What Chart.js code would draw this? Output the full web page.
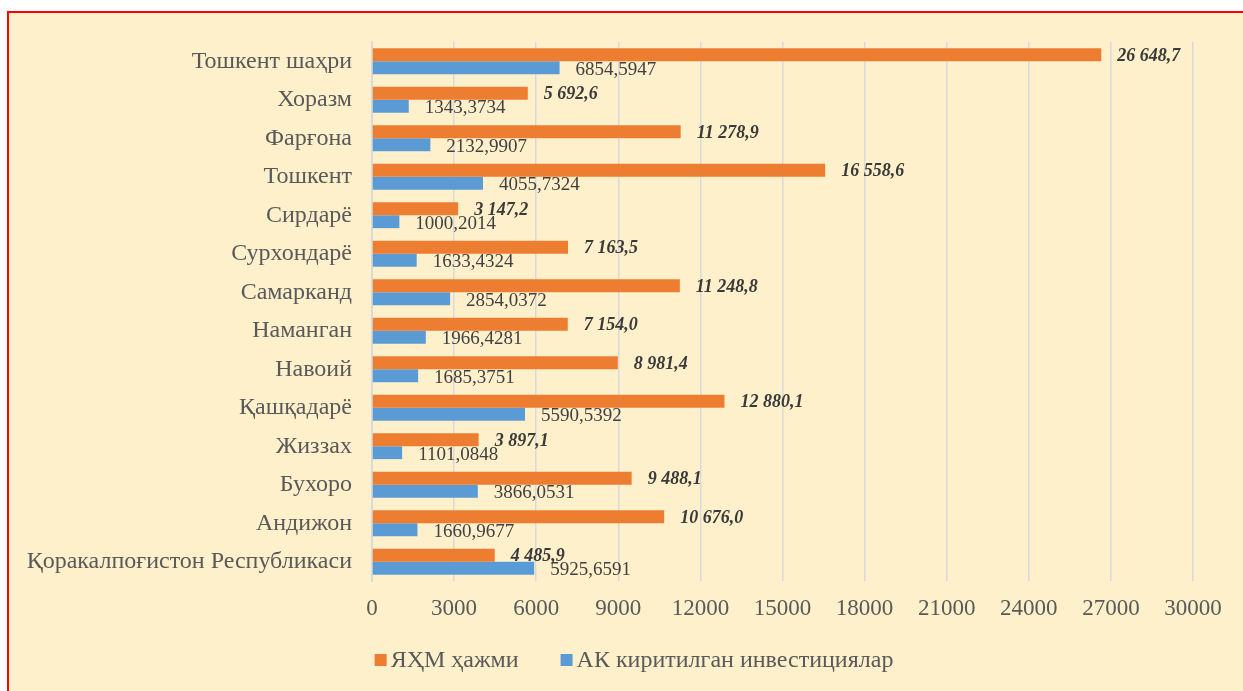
<!DOCTYPE html>
<html>
<head>
<meta charset="utf-8">
<script src="https://cdn.jsdelivr.net/npm/chart.js@4/dist/chart.umd.min.js"></script>
<style>
    body { margin: 0; background: #ffffff; overflow: hidden; }
    #frame {
        position: absolute; left: 7px; top: 11px;
        width: 1250px; height: 700px;
        background: #FFF0CC; border: 2px solid #FF0000;
    }
    #wrap { position: absolute; left: 0; top: 0; width: 1243px; height: 691px; }
</style>
</head>
<body>
<div id="frame"></div>
<div id="wrap"><canvas id="chart"></canvas></div>
<script>
// Regions, top to bottom
const regions = [
    'Тошкент шаҳри', 'Хоразм', 'Фарғона', 'Тошкент', 'Сирдарё', 'Сурхондарё',
    'Самарканд', 'Наманган', 'Навоий', 'Қашқадарё', 'Жиззах', 'Бухоро',
    'Андижон', 'Қоракалпоғистон Республикаси'
];

// ЯҲМ ҳажми
const grpValues = [
    26648.7, 5692.6, 11278.9, 16558.6, 3147.2, 7163.5,
    11248.8, 7154.0, 8981.4, 12880.1, 3897.1, 9488.1,
    10676.0, 4485.9
];

// АК киритилган инвестициялар
const investValues = [
    6854.5947, 1343.3734, 2132.9907, 4055.7324, 1000.2014, 1633.4324,
    2854.0372, 1966.4281, 1685.3751, 5590.5392, 1101.0848, 3866.0531,
    1660.9677, 5925.6591
];

const xTicks = [0, 3000, 6000, 9000, 12000, 15000, 18000, 21000, 24000, 27000, 30000];

const FONT = '"Liberation Serif", "Times New Roman", serif';
const TEXT_GREY = '#595959';

function fmtGrp(v) {
    const parts = v.toFixed(1).split('.');
    const intPart = parts[0].replace(/\B(?=(\d{3})+(?!\d))/g, ' ');
    return intPart + ',' + parts[1];
}

function fmtInvest(v) {
    return v.toFixed(4).replace('.', ',');
}

// Value labels next to each bar end
const barLabels = {
    id: 'barLabels',
    afterDatasetsDraw(chart) {
        const ctx = chart.ctx;
        ctx.save();
        ctx.textAlign = 'left';
        ctx.textBaseline = 'middle';
        chart.data.datasets.forEach((ds, i) => {
            const meta = chart.getDatasetMeta(i);
            meta.data.forEach((bar, j) => {
                if (i === 0) {
                    ctx.font = 'italic bold 18px ' + FONT;
                    ctx.fillStyle = '#3a3a3a';
                    ctx.fillText(fmtGrp(ds.data[j]), bar.x + 16, bar.y + 1.5);
                } else {
                    ctx.font = '19px ' + FONT;
                    ctx.fillStyle = '#404040';
                    ctx.fillText(fmtInvest(ds.data[j]), bar.x + 16, bar.y + 2);
                }
            });
        });
        ctx.restore();
    }
};

// Legend under the axis, centred like the original
const bottomLegend = {
    id: 'bottomLegend',
    afterDraw(chart) {
        const ctx = chart.ctx;
        const centerX = 634;
        const y = 660;
        const box = 12, gap = 4, spacing = 42;
        ctx.save();
        ctx.font = '24px ' + FONT;
        ctx.textBaseline = 'middle';
        ctx.textAlign = 'left';
        const items = chart.data.datasets.map(ds => ({
            text: ds.label,
            color: ds.backgroundColor,
            w: box + gap + ctx.measureText(ds.label).width
        }));
        const total = items.reduce((s, it) => s + it.w, 0) + spacing * (items.length - 1);
        let x = centerX - total / 2;
        items.forEach(it => {
            ctx.fillStyle = it.color;
            ctx.fillRect(x, y - box / 2, box, box);
            ctx.fillStyle = TEXT_GREY;
            ctx.fillText(it.text, x + box + gap, y + 1);
            x += it.w + spacing;
        });
        ctx.restore();
    }
};

new Chart(document.getElementById('chart'), {
    type: 'bar',
    data: {
        labels: regions,
        datasets: [
            {
                label: 'ЯҲМ ҳажми',
                data: grpValues,
                backgroundColor: '#ED7D31',
                borderWidth: 0,
                categoryPercentage: 0.67,
                barPercentage: 1.0
            },
            {
                label: 'АК киритилган инвестициялар',
                data: investValues,
                backgroundColor: '#5B9BD5',
                borderWidth: 0,
                categoryPercentage: 0.67,
                barPercentage: 1.0
            }
        ]
    },
    options: {
        indexAxis: 'y',
        responsive: true,
        maintainAspectRatio: false,
        animation: false,
        layout: {
            padding: { left: 0, right: 50, top: 42, bottom: 53 }
        },
        plugins: {
            legend: { display: false },
            tooltip: { enabled: false }
        },
        scales: {
            x: {
                min: 0,
                max: 30000,
                afterBuildTicks: (scale) => {
                    scale.ticks = xTicks.map(v => ({ value: v }));
                },
                afterFit: (scale) => { scale.height = 57; },
                grid: { color: '#D9D9D9', lineWidth: 1.5, drawTicks: false },
                border: { display: false },
                ticks: {
                    color: TEXT_GREY,
                    padding: 14,
                    font: { family: FONT, size: 23 },
                    callback: (v) => String(v)
                }
            },
            y: {
                afterFit: (scale) => { scale.width = 372; },
                grid: { display: false, drawTicks: false },
                border: { display: true, color: '#D9D9D9', width: 2 },
                ticks: {
                    color: TEXT_GREY,
                    padding: 20,
                    font: { family: FONT, size: 24 }
                }
            }
        }
    },
    plugins: [barLabels, bottomLegend]
});
</script>
</body>
</html>
